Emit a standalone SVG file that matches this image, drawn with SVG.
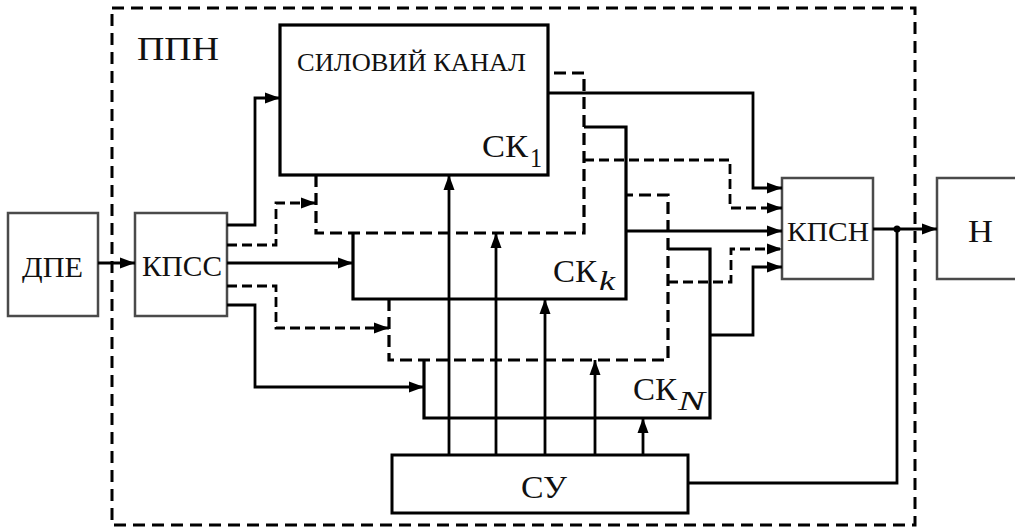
<svg xmlns="http://www.w3.org/2000/svg" width="1015" height="528" viewBox="0 0 1015 528">
<style>
.t{font-family:'Liberation Serif','DejaVu Serif','Noto Serif',serif;fill:#111}
.blk{fill:#fff;stroke:#4a4a4a;stroke-width:2.5}
.ck{fill:none;stroke:#000;stroke-width:3.2}
.ckd{fill:none;stroke:#000;stroke-width:3.2;stroke-dasharray:12 6}
.ln{fill:none;stroke:#000;stroke-width:2.8}
.dl{fill:none;stroke:#000;stroke-width:2.8;stroke-dasharray:10 5}
.arr{marker-end:url(#ah)}
</style>
<defs>
<marker id="ah" markerUnits="userSpaceOnUse" markerWidth="16" markerHeight="12" refX="15" refY="6" orient="auto">
<path d="M0,0.5 L15,6 L0,11.5 z" fill="#000"/>
</marker>
</defs>
<rect width="1015" height="528" fill="#fff"/>
<g id="ppn">
<rect x="112" y="8" width="803" height="517" fill="none" stroke="#000" stroke-width="3" stroke-dasharray="12 7"/>
<text class="t" font-family="Liberation Serif, serif" x="137" y="60" font-size="34" textLength="82" lengthAdjust="spacingAndGlyphs">ППН</text>
</g>
<g id="dpe">
<rect class="blk" x="8" y="213" width="90" height="103"/>
<text class="t" font-family="Liberation Serif, serif" x="22" y="277" font-size="30" textLength="61" lengthAdjust="spacingAndGlyphs">ДПЕ</text>
</g>
<g id="kpss">
<rect class="blk" x="135" y="213" width="92" height="103"/>
<text class="t" font-family="Liberation Serif, serif" x="142" y="276" font-size="29" textLength="80" lengthAdjust="spacingAndGlyphs">КПСС</text>
</g>
<g id="ckn">
<path class="ck" d="M424,360 V418 H710 V249 H668"/>
<text class="t" font-family="Liberation Serif, serif" x="633" y="400" font-size="31" textLength="44" lengthAdjust="spacingAndGlyphs">СК</text>
<text class="t" font-family="Liberation Serif, serif" x="678" y="410" font-size="28" font-style="italic" textLength="27" lengthAdjust="spacingAndGlyphs">N</text>
</g>
<g id="ck4">
<path class="ckd" d="M389,299 V360 H668 V195 H626"/>
</g>
<g id="ckk">
<path class="ck" d="M353,233 V299 H626 V127 H584"/>
<text class="t" font-family="Liberation Serif, serif" x="553" y="282" font-size="31" textLength="44" lengthAdjust="spacingAndGlyphs">СК</text>
<text class="t" font-family="Liberation Serif, serif" x="599" y="290" font-size="28" font-style="italic" textLength="16" lengthAdjust="spacingAndGlyphs">k</text>
</g>
<g id="ck2">
<path class="ckd" d="M316,175 V233 H584 V73 H548"/>
</g>
<g id="ck1">
<rect class="ck" x="280" y="25" width="268" height="150" fill="#fff"/>
<text class="t" font-family="Liberation Serif, serif" x="297" y="71" font-size="25" textLength="229" lengthAdjust="spacingAndGlyphs">СИЛОВИЙ КАНАЛ</text>
<text class="t" font-family="Liberation Serif, serif" x="482" y="157" font-size="31" textLength="46" lengthAdjust="spacingAndGlyphs">СК</text>
<text class="t" font-family="Liberation Serif, serif" x="530" y="167" font-size="27" textLength="12" lengthAdjust="spacingAndGlyphs">1</text>
</g>
<g id="kpsn">
<rect class="blk" x="782" y="178" width="91" height="101"/>
<text class="t" font-family="Liberation Serif, serif" x="787" y="241" font-size="27" textLength="82" lengthAdjust="spacingAndGlyphs">КПСН</text>
</g>
<g id="n">
<rect class="blk" x="937" y="178" width="100" height="101"/>
<text class="t" font-family="Liberation Serif, serif" x="968" y="242" font-size="31" textLength="25" lengthAdjust="spacingAndGlyphs">Н</text>
</g>
<g id="su">
<rect x="392" y="455" width="296" height="58" fill="#fff" stroke="#000" stroke-width="3"/>
<text class="t" font-family="Liberation Serif, serif" x="521" y="498" font-size="32" textLength="46" lengthAdjust="spacingAndGlyphs">СУ</text>
</g>
<g id="connectors">
<path class="ln arr" d="M98,263 H135"/>
<path class="ln arr" d="M227,225 H255 V98 H280"/>
<path class="dl arr" d="M227,245 H276 V203 H316"/>
<path class="ln arr" d="M227,263 H353"/>
<path class="dl arr" d="M227,286 H276 V328 H389"/>
<path class="ln arr" d="M227,305 H255 V387 H424"/>
<path class="ln arr" d="M548,93 H753 V188 H782"/>
<path class="dl arr" d="M584,160 H730 V208 H782"/>
<path class="ln arr" d="M626,231 H782"/>
<path class="dl arr" d="M668,282 H731 V249 H782"/>
<path class="ln arr" d="M710,335 H753 V267 H782"/>
<path class="ln arr" d="M873,229 H937"/>
<path class="ln" d="M688,483 H897 V229"/>
<circle cx="897" cy="229" r="3.5" fill="#000"/>
<path class="ln arr" d="M449,455 V175"/>
<path class="ln arr" d="M496,455 V233"/>
<path class="ln arr" d="M545,455 V299"/>
<path class="ln arr" d="M595,455 V360"/>
<path class="ln arr" d="M643,455 V418"/>
</g>
</svg>
